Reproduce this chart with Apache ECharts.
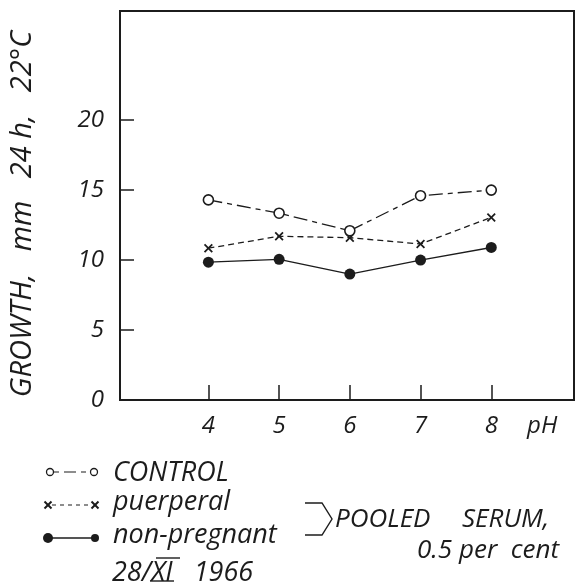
<!DOCTYPE html>
<html>
<head>
<meta charset="utf-8">
<script src="https://cdn.jsdelivr.net/npm/echarts@6/dist/echarts.min.js"></script>
<style>
  html, body { margin: 0; padding: 0; background: #fff; }
  #chart { width: 578px; height: 582px; }
</style>
</head>
<body>
<div id="chart"></div>
<script>
// pH values tested
const phValues = [4, 5, 6, 7, 8];
// growth (mm in 24 h at 22 °C)
const controlGrowth = [14.3, 13.35, 12.1, 14.6, 15.0];
const puerperalGrowth = [10.85, 11.7, 11.6, 11.15, 13.05];
const nonPregnantGrowth = [9.85, 10.05, 9.0, 10.0, 10.9];
const seriesNames = ['CONTROL', 'puerperal', 'non-pregnant'];
const yTicks = [0, 5, 10, 15, 20];
const yTitle = 'GROWTH,   mm   24 h,   22°C';
const xUnit = 'pH';
const noteWords = ['POOLED', 'SERUM,', '0.5 per  cent'];
const dateText = '28/XI   1966';

const INK = '#1c1c1c';
const FONT = '"Open Sans", "DejaVu Sans", sans-serif';

const pairs = ys => phValues.map((x, i) => [x, ys[i]]);
const crossPath = 'path://M0,1.4L1.4,0L5,3.6L8.6,0L10,1.4L6.4,5L10,8.6L8.6,10L5,6.4L1.4,10L0,8.6L3.6,5Z';

const chart = echarts.init(document.getElementById('chart'), null, { renderer: 'canvas' });

const labelFont = { fontFamily: FONT, fontStyle: 'italic', fontWeight: 400, color: INK };

const legendText = (x, y, text, size) => ({
  type: 'text', x, y,
  style: { text, fontSize: size || 27, fontFamily: FONT, fontStyle: 'italic', fontWeight: 400,
    fill: INK, verticalAlign: 'middle', align: 'left' }
});

// small diagonal cross used in the key
const keyCross = (cx, cy) => [
  { type: 'line', shape: { x1: cx - 3.5, y1: cy - 3.5, x2: cx + 3.5, y2: cy + 3.5 }, style: { stroke: INK, lineWidth: 2 } },
  { type: 'line', shape: { x1: cx + 3.5, y1: cy - 3.5, x2: cx - 3.5, y2: cy + 3.5 }, style: { stroke: INK, lineWidth: 2 } }
];

chart.setOption({
  backgroundColor: '#fff',
  animation: false,
  textStyle: { fontFamily: FONT },
  grid: { left: 118, right: 4, top: 11, bottom: 182, show: true, borderColor: INK, borderWidth: 2 },
  xAxis: {
    type: 'value', min: 2.75, max: 9.17,
    splitLine: { show: false },
    axisLine: { show: true, lineStyle: { color: INK, width: 2 } },
    axisTick: { show: true, inside: true, length: 15, customValues: phValues, lineStyle: { color: INK, width: 1.5 } },
    axisLabel: Object.assign({ fontSize: 24, margin: 14, customValues: phValues.concat([8.72]),
      formatter: v => (v > 8.5 ? xUnit : String(v)) }, labelFont)
  },
  yAxis: {
    type: 'value', min: 0, max: 27.8,
    name: yTitle, nameLocation: 'middle', nameRotate: 90, nameGap: 83,
    nameTextStyle: Object.assign({ fontSize: 29, padding: [0, 17, 0, 0] }, labelFont),
    splitLine: { show: false },
    axisLine: { show: true, lineStyle: { color: INK, width: 2 } },
    axisTick: { show: true, inside: true, length: 14, customValues: yTicks.slice(1), lineStyle: { color: INK, width: 1.5 } },
    axisLabel: Object.assign({ fontSize: 24, margin: 16, customValues: yTicks }, labelFont)
  },
  series: [
    {
      name: seriesNames[0], type: 'line', data: pairs(controlGrowth),
      symbol: 'circle', symbolSize: 10, showAllSymbol: true,
      lineStyle: { color: INK, width: 1.3, type: [14, 5, 5, 5] },
      itemStyle: { color: '#fff', borderColor: INK, borderWidth: 1.6 }, z: 3
    },
    {
      name: seriesNames[1], type: 'line', data: pairs(puerperalGrowth),
      symbol: crossPath, symbolSize: 9,
      lineStyle: { color: INK, width: 1.3, type: [6, 4] },
      itemStyle: { color: INK }, z: 2
    },
    {
      name: seriesNames[2], type: 'line', data: pairs(nonPregnantGrowth),
      symbol: 'circle', symbolSize: 11,
      lineStyle: { color: INK, width: 1.4 },
      itemStyle: { color: INK }, z: 2
    }
  ],
  graphic: [
    // key: control
    { type: 'line', shape: { x1: 54, y1: 472, x2: 90, y2: 472 }, style: { stroke: INK, lineWidth: 1.2, lineDash: [5, 5, 12, 5] } },
    { type: 'circle', shape: { cx: 50, cy: 472, r: 3.5 }, style: { fill: '#fff', stroke: INK, lineWidth: 1.3 } },
    { type: 'circle', shape: { cx: 94, cy: 472, r: 3.5 }, style: { fill: '#fff', stroke: INK, lineWidth: 1.3 } },
    legendText(113, 473, seriesNames[0]),
    // key: puerperal
    { type: 'line', shape: { x1: 52, y1: 505, x2: 91, y2: 505 }, style: { stroke: INK, lineWidth: 1.2, lineDash: [4, 4] } },
    ...keyCross(48, 505),
    ...keyCross(95, 505),
    legendText(113, 502, seriesNames[1]),
    // key: non-pregnant
    { type: 'line', shape: { x1: 48, y1: 538, x2: 95, y2: 538 }, style: { stroke: INK, lineWidth: 1.4 } },
    { type: 'circle', shape: { cx: 48, cy: 538, r: 5 }, style: { fill: INK } },
    { type: 'circle', shape: { cx: 95, cy: 538, r: 4 }, style: { fill: INK } },
    legendText(113, 535, seriesNames[2]),
    legendText(112, 573, dateText),
    // bars over and under the Roman month
    { type: 'line', shape: { x1: 156, y1: 558, x2: 180, y2: 558 }, style: { stroke: INK, lineWidth: 1.4 } },
    { type: 'line', shape: { x1: 150, y1: 581, x2: 174, y2: 581 }, style: { stroke: INK, lineWidth: 1.4 } },
    // bracket joining the serum groups
    { type: 'polyline', shape: { points: [[305, 503], [322, 503], [332, 519], [322, 535], [305, 535]] }, style: { stroke: INK, lineWidth: 1.4, fill: null } },
    legendText(335, 520, noteWords[0], 26),
    legendText(462, 520, noteWords[1], 26),
    legendText(417, 551, noteWords[2], 26)
  ]
});
</script>
</body>
</html>
